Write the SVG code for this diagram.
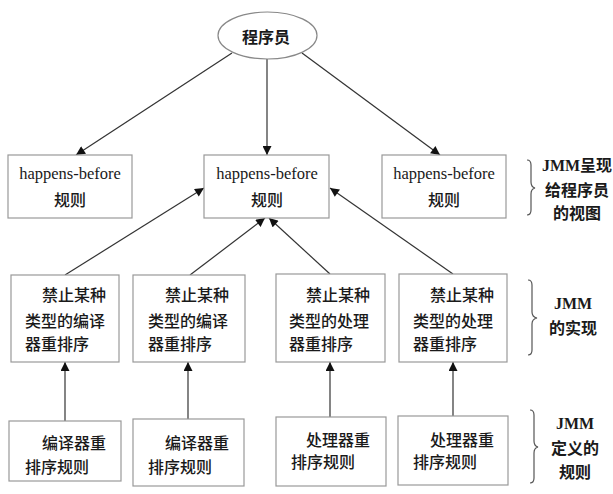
<svg xmlns="http://www.w3.org/2000/svg" width="613" height="494" viewBox="0 0 613 494">
<style>
.box{fill:#fff;stroke:#999;stroke-width:1.2}
.t{font-family:"Liberation Serif","Noto Sans CJK SC",serif;font-size:16px;fill:#1a1a1a;font-weight:500}
.h{font-size:16.5px;font-weight:normal}
.c{text-anchor:middle}
.b{font-weight:bold}
.edge{stroke:#333;stroke-width:1.2;fill:none}
.brace{stroke:#555;stroke-width:1.2;fill:none}
</style>
<defs>
<marker id="arr" viewBox="0 0 10 10" refX="10" refY="5" markerWidth="10" markerHeight="9" markerUnits="userSpaceOnUse" orient="auto">
<path d="M0,0 L10,5 L0,10 Z" fill="#111"/>
</marker>
</defs>
<rect width="613" height="494" fill="#fff"/>

<g id="connectors">
<line class="edge" x1="232" y1="53" x2="76" y2="155" marker-end="url(#arr)"/>
<line class="edge" x1="267" y1="59" x2="267" y2="155" marker-end="url(#arr)"/>
<line class="edge" x1="302" y1="53" x2="440" y2="155" marker-end="url(#arr)"/>
<line class="edge" x1="65" y1="275" x2="204" y2="188" marker-end="url(#arr)"/>
<line class="edge" x1="190" y1="275" x2="265" y2="218" marker-end="url(#arr)"/>
<line class="edge" x1="330" y1="274" x2="269" y2="218" marker-end="url(#arr)"/>
<line class="edge" x1="453" y1="274" x2="330" y2="188" marker-end="url(#arr)"/>
<line class="edge" x1="65" y1="421" x2="65" y2="362" marker-end="url(#arr)"/>
<line class="edge" x1="188" y1="419" x2="188" y2="362" marker-end="url(#arr)"/>
<line class="edge" x1="330" y1="417" x2="330" y2="362" marker-end="url(#arr)"/>
<line class="edge" x1="453" y1="416" x2="453" y2="362" marker-end="url(#arr)"/>
</g>

<g id="programmer">
<ellipse cx="267.5" cy="35.5" rx="49.5" ry="23.5" fill="#fff" stroke="#888" stroke-width="1.2"/>
<text class="t c b" x="266" y="43">程序员</text>
</g>

<g id="hb1">
<rect class="box" x="8" y="155" width="124" height="63"/>
<text class="t c h" x="70" y="179">happens-before</text>
<text class="t c" x="70" y="206">规则</text>
</g>
<g id="hb2">
<rect class="box" x="204" y="155" width="125" height="63"/>
<text class="t c h" x="267" y="179">happens-before</text>
<text class="t c" x="267" y="206">规则</text>
</g>
<g id="hb3">
<rect class="box" x="382" y="155" width="124" height="63"/>
<text class="t c h" x="444" y="179">happens-before</text>
<text class="t c" x="444" y="206">规则</text>
</g>

<g id="label-view">
<path class="brace" d="M527,160 Q531,160 531,165 L531,182 Q531,187 535,188 Q531,189 531,194 L531,210 Q531,215 527,215"/>
<text class="t c b" x="577" y="171">JMM呈现</text>
<text class="t c b" x="577" y="196">给程序员</text>
<text class="t c b" x="577" y="219">的视图</text>
</g>

<g id="impl1">
<rect class="box" x="11" y="275" width="108" height="87"/>
<text class="t" x="42" y="301">禁止某种</text>
<text class="t" x="25" y="327">类型的编译</text>
<text class="t" x="25" y="350">器重排序</text>
</g>
<g id="impl2">
<rect class="box" x="133" y="275" width="112" height="87"/>
<text class="t" x="165" y="301">禁止某种</text>
<text class="t" x="148" y="327">类型的编译</text>
<text class="t" x="148" y="350">器重排序</text>
</g>
<g id="impl3">
<rect class="box" x="276" y="274" width="109" height="88"/>
<text class="t" x="306" y="301">禁止某种</text>
<text class="t" x="289" y="327">类型的处理</text>
<text class="t" x="289" y="350">器重排序</text>
</g>
<g id="impl4">
<rect class="box" x="399" y="274" width="108" height="88"/>
<text class="t" x="430" y="301">禁止某种</text>
<text class="t" x="413" y="327">类型的处理</text>
<text class="t" x="413" y="350">器重排序</text>
</g>

<g id="label-impl">
<path class="brace" d="M528,280 Q532,280 532,285 L532,312 Q532,317 537,318 Q532,319 532,324 L532,350 Q532,355 528,355"/>
<text class="t c b" x="573" y="309">JMM</text>
<text class="t c b" x="573" y="334">的实现</text>
</g>

<g id="rule1">
<rect class="box" x="9" y="421" width="112" height="60"/>
<text class="t" x="42" y="449">编译器重</text>
<text class="t" x="25" y="473">排序规则</text>
</g>
<g id="rule2">
<rect class="box" x="133" y="419" width="111" height="67"/>
<text class="t" x="165" y="449">编译器重</text>
<text class="t" x="148" y="473">排序规则</text>
</g>
<g id="rule3">
<rect class="box" x="276" y="417" width="110" height="69"/>
<text class="t" x="306" y="446">处理器重</text>
<text class="t" x="291" y="468">排序规则</text>
</g>
<g id="rule4">
<rect class="box" x="398" y="416" width="110" height="69"/>
<text class="t" x="430" y="446">处理器重</text>
<text class="t" x="413" y="468">排序规则</text>
</g>

<g id="label-rules">
<path class="brace" d="M530,410 Q534,410 534,415 L534,441 Q534,446 538,447 Q534,448 534,453 L534,478 Q534,483 530,483"/>
<text class="t c b" x="575" y="429">JMM</text>
<text class="t c b" x="575" y="454">定义的</text>
<text class="t c b" x="575" y="478">规则</text>
</g>
</svg>
